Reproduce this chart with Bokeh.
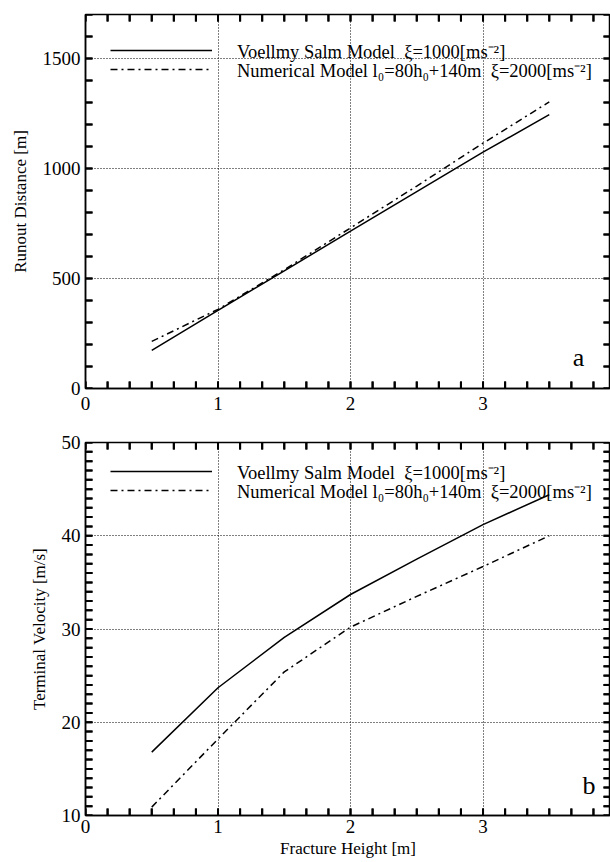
import numpy as np
from bokeh.plotting import figure
from bokeh.layouts import column
from bokeh.models import (LinearAxis, SingleIntervalTicker, Range1d, Legend,
                          LegendItem, Label, Grid)
from bokeh.embed import file_html
from bokeh.resources import INLINE

# ---- data ----
fracture_height = [0.5, 1.0, 1.5, 2.0, 2.5, 3.0, 3.5]
runout_voellmy = [173, 355, 535, 715, 895, 1074, 1245]
runout_numerical = [214, 360, 540, 730, 920, 1115, 1303]
velocity_voellmy = [16.8, 23.7, 29.1, 33.7, 37.5, 41.2, 44.4]
velocity_numerical = [10.9, 18.2, 25.4, 30.2, 33.5, 36.7, 40.0]

label_voellmy = "Voellmy Salm Model  \u03be=1000[ms\u207b\u00b2]"
label_numerical = "Numerical Model l\u2080=80h\u2080+140m  \u03be=2000[ms\u207b\u00b2]"

FONT = "Liberation Serif"
DASHDOT = "7 4 2 4"
XMAX = 3.962
X_MINOR_STEP = 1 / 6
TICK_LEN = 7          # px
FRAME_W = 610 - 85    # px


def make_panel(height, ya0, ya1, y_interval, y_minor_step, ylabel, xlabel,
               border_top, border_bottom, x_standoff):
    frame_h = height - border_top - border_bottom
    xt = SingleIntervalTicker(interval=1, num_minor_ticks=6)
    yt = SingleIntervalTicker(interval=y_interval, num_minor_ticks=5)
    p = figure(width=610, height=height, output_backend="svg",
               toolbar_location=None, x_axis_type=None, y_axis_type=None,
               x_range=Range1d(0, XMAX), y_range=Range1d(ya0, ya1),
               min_border_left=85, min_border_right=0,
               min_border_top=border_top, min_border_bottom=border_bottom)
    p.outline_line_color = "black"
    p.outline_line_width = 1.5
    p.background_fill_color = "white"
    p.border_fill_color = "white"

    xa = LinearAxis(ticker=xt, axis_label=xlabel)
    ya = LinearAxis(ticker=yt, axis_label=ylabel)
    for ax in (xa, ya):
        ax.major_label_text_font = FONT
        ax.major_label_text_font_size = "19px"
        ax.major_label_text_color = "black"
        ax.axis_label_text_font = FONT
        ax.axis_label_text_font_size = "17px"
        ax.axis_label_text_font_style = "normal"
        ax.axis_label_text_color = "black"
        ax.axis_line_color = "black"
        ax.axis_line_width = 1.5
        ax.major_tick_in = 0
        ax.major_tick_out = 0
        ax.minor_tick_in = 0
        ax.minor_tick_out = 0
    xa.major_label_standoff = x_standoff
    xa.axis_label_standoff = 3
    ya.major_label_standoff = 5
    ya.axis_label_standoff = 10
    p.add_layout(xa, "below")
    p.add_layout(ya, "left")

    for dim, t in ((0, xt), (1, yt)):
        g = Grid(dimension=dim, ticker=t, grid_line_color="black",
                 grid_line_dash="1 2", grid_line_width=1)
        p.add_layout(g)

    # inward tick marks on all four sides (major + minor), one line per tick
    dx = TICK_LEN * XMAX / FRAME_W
    dy = TICK_LEN * (ya1 - ya0) / frame_h
    xticks = [float(v) for v in np.arange(0, XMAX, X_MINOR_STEP)]
    yticks = [float(v) for v in np.arange(ya0, ya1 + y_minor_step / 2,
                                          y_minor_step)]
    xs, ys = [], []
    for v in xticks:
        xs += [[v, v], [v, v]]
        ys += [[ya0, ya0 + dy], [ya1, ya1 - dy]]
    for v in yticks:
        xs += [[0.0, dx], [XMAX, XMAX - dx]]
        ys += [[v, v], [v, v]]
    p.multi_line(xs=xs, ys=ys, line_color="black", line_width=2)

    # same ticks again as short dash markers (centred half a tick inside)
    p.scatter(x=xticks, y=ya0 + dy / 2, marker="dash", size=TICK_LEN,
              angle=np.pi / 2, line_color="black", line_width=2)
    p.scatter(x=xticks, y=ya1 - dy / 2, marker="dash", size=TICK_LEN,
              angle=np.pi / 2, line_color="black", line_width=2)
    p.scatter(x=dx / 2, y=yticks, marker="dash", size=TICK_LEN,
              line_color="black", line_width=2)
    p.scatter(x=XMAX - dx / 2, y=yticks, marker="dash", size=TICK_LEN,
              line_color="black", line_width=2)
    return p


def add_legend(p, renderer, label, vy):
    leg = Legend(items=[LegendItem(label=label, renderers=[renderer])],
                 location=(25, vy), margin=0, padding=0, spacing=0,
                 glyph_width=102, glyph_height=26, label_height=26,
                 label_standoff=25, border_line_color=None,
                 background_fill_alpha=0,
                 label_text_font=FONT, label_text_font_size="18.5px",
                 label_text_color="black")
    p.add_layout(leg)


# ---- panel a ----
p1 = make_panel(420, 0, 1700, 500, 100, "Runout Distance [m]", None, 14, 32, 8)
r1 = p1.line(fracture_height, runout_voellmy, line_color="black", line_width=1.5)
r2 = p1.line(fracture_height, runout_numerical, line_color="black",
             line_width=1.5, line_dash=DASHDOT)
add_legend(p1, r1, label_voellmy, 325)
add_legend(p1, r2, label_numerical, 306)
p1.add_layout(Label(x=3.72, y=141, text="a", text_font=FONT,
                    text_font_size="26px", text_align="center",
                    text_baseline="middle", text_color="black"))

# ---- panel b ----
p2 = make_panel(442, 10, 50, 10, 1, "Terminal Velocity [m/s]",
                "Fracture Height [m]", 22, 47, 4)
s1 = p2.line(fracture_height, velocity_voellmy, line_color="black", line_width=1.5)
s2 = p2.line(fracture_height, velocity_numerical, line_color="black",
             line_width=1.5, line_dash=DASHDOT)
add_legend(p2, s1, label_voellmy, 331)
add_legend(p2, s2, label_numerical, 312)
p2.add_layout(Label(x=3.80, y=13.2, text="b", text_font=FONT,
                    text_font_size="26px", text_align="center",
                    text_baseline="middle", text_color="black"))

layout = column(p1, p2, spacing=0)
open("out.html", "w").write(file_html(layout, INLINE))
